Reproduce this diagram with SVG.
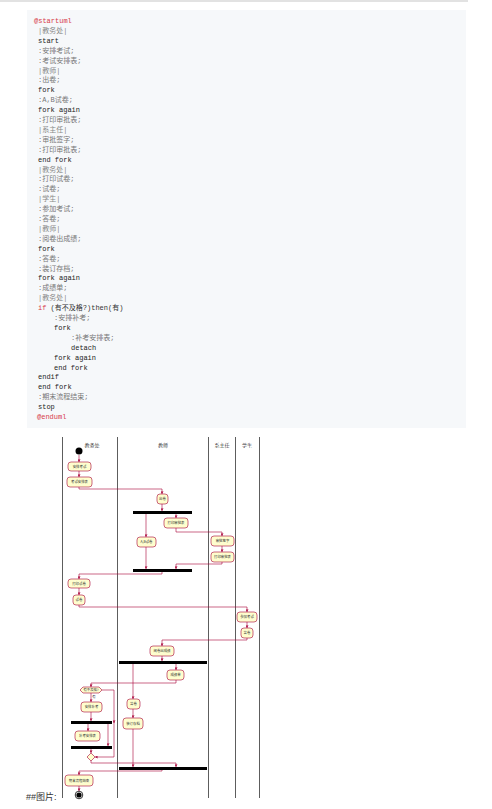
<svg xmlns="http://www.w3.org/2000/svg" width="492" height="809" viewBox="0 0 492 809">
<defs>
<style>
.code{font-family:"Liberation Mono","Noto Sans CJK SC",monospace;font-size:7px;fill:#333;white-space:pre}
.red{fill:#d73a49}
.act{fill:#777}
.lane{fill:#888}
.kw{fill:#222}
.box{fill:#FEFECE;stroke:#A80036;stroke-width:0.6}
.lbl{font-family:"Noto Sans CJK SC",sans-serif;font-size:3.4px;fill:#333;text-anchor:middle}
.hdr{font-family:"Noto Serif CJK SC","Noto Sans CJK SC",serif;font-size:5px;fill:#222;text-anchor:middle}
.ln{stroke:#A80036;stroke-width:0.6;fill:none}
.ar{stroke:#A80036;stroke-width:0.6;fill:none;marker-end:url(#ah)}
.bar{fill:#000}
.sw{stroke:#333;stroke-width:0.8}
</style>
<marker id="ah" viewBox="0 0 6 6" refX="6" refY="3" markerWidth="3" markerHeight="3" markerUnits="userSpaceOnUse" orient="auto">
<path d="M0,0 L6,3 L0,6 L1.5,3 z" fill="#A80036"/>
</marker>
</defs>
<rect x="0" y="0" width="492" height="809" fill="#fff"/>
<line x1="0" y1="1" x2="468" y2="1" stroke="#d8d8d8" stroke-width="1.5"/>
<rect x="27" y="10" width="439" height="418" fill="#f6f8fa"/>
<g id="code" class="code">
<text x="34" y="23" class="red">@startuml</text>
<text x="38" y="32.9" class="lane">|教务处|</text>
<text x="38" y="42.8" class="kw">start</text>
<text x="38" y="52.7" class="act">:安排考试;</text>
<text x="38" y="62.6" class="act">:考试安排表;</text>
<text x="38" y="72.5" class="lane">|教师|</text>
<text x="38" y="82.4" class="act">:出卷;</text>
<text x="38" y="92.3" class="kw">fork</text>
<text x="38" y="102.2" class="act">:A,B试卷;</text>
<text x="38" y="112.1" class="kw">fork again</text>
<text x="38" y="122" class="act">:打印审批表;</text>
<text x="38" y="131.9" class="lane">|系主任|</text>
<text x="38" y="141.8" class="act">:审批签字;</text>
<text x="38" y="151.7" class="act">:打印审批表;</text>
<text x="38" y="161.6" class="kw">end fork</text>
<text x="38" y="171.5" class="lane">|教务处|</text>
<text x="38" y="181.4" class="act">:打印试卷;</text>
<text x="38" y="191.3" class="act">:试卷;</text>
<text x="38" y="201.2" class="lane">|学生|</text>
<text x="38" y="211.1" class="act">:参加考试;</text>
<text x="38" y="221" class="act">:答卷;</text>
<text x="38" y="230.9" class="lane">|教师|</text>
<text x="38" y="240.8" class="act">:阅卷出成绩;</text>
<text x="38" y="250.7" class="kw">fork</text>
<text x="38" y="260.6" class="act">:答卷;</text>
<text x="38" y="270.5" class="act">:装订存档;</text>
<text x="38" y="280.4" class="kw">fork again</text>
<text x="38" y="290.3" class="act">:成绩单;</text>
<text x="38" y="300.2" class="lane">|教务处|</text>
<text x="38" y="310.1"><tspan class="red">if</tspan> (有不及格?)then(有)</text>
<text x="54" y="320" class="act">:安排补考;</text>
<text x="54" y="329.9" class="kw">fork</text>
<text x="71" y="339.8" class="act">:补考安排表;</text>
<text x="71" y="349.7" class="kw">detach</text>
<text x="54" y="359.6" class="kw">fork again</text>
<text x="54" y="369.5" class="kw">end fork</text>
<text x="38" y="379.4" class="kw">endif</text>
<text x="38" y="389.3" class="kw">end fork</text>
<text x="38" y="399.2" class="act">:期末流程结束;</text>
<text x="38" y="409.1" class="kw">stop</text>
<text x="37" y="419" class="red">@enduml</text>
</g>
<g id="swimlanes">
<line class="sw" x1="62.5" y1="437" x2="62.5" y2="798"/>
<line class="sw" x1="117.5" y1="437" x2="117.5" y2="798"/>
<line class="sw" x1="208.5" y1="437" x2="208.5" y2="798"/>
<line class="sw" x1="235.5" y1="437" x2="235.5" y2="798"/>
<line class="sw" x1="259.5" y1="437" x2="259.5" y2="798"/>
<text class="hdr" x="92" y="447">教务处</text>
<text class="hdr" x="163" y="447">教师</text>
<text class="hdr" x="222" y="447">系主任</text>
<text class="hdr" x="247" y="447">学生</text>
</g>
<g id="connectors">
<path class="ar" d="M79,455 V462"/>
<path class="ar" d="M79,471 V477"/>
<path class="ar" d="M79,487 V489 H162 V494"/>
<path class="ar" d="M162,504 V511"/>
<path class="ar" d="M146,514 V537"/>
<path class="ar" d="M146,547 V569"/>
<path class="ar" d="M176,514 V518"/>
<path class="ar" d="M176,528 V532 H222 V536"/>
<path class="ar" d="M222,546 V552"/>
<path class="ar" d="M222,562 V564 H176 V569"/>
<path class="ar" d="M162,572 V574 H79 V579"/>
<path class="ar" d="M79,588 V595"/>
<path class="ar" d="M79,605 V607 H247 V612"/>
<path class="ar" d="M247,622 V628"/>
<path class="ar" d="M247,638 V640 H162 V646"/>
<path class="ar" d="M162,656 V661"/>
<path class="ar" d="M176,664 V670"/>
<path class="ar" d="M176,680 V683 H91 V687"/>
<path class="ar" d="M91,693 V702"/>
<path class="ar" d="M91,712 V721"/>
<path class="ar" d="M88,724 V731"/>
<path class="ar" d="M108,724 V746"/>
<path class="ar" d="M91,749 V753"/>
<path class="ar" d="M102,690 H114 V723"/>
<path class="ar" d="M114,722 V757 H95"/>
<path class="ar" d="M91,761 V763 H176 V767"/>
<path class="ar" d="M133,664 V699"/>
<path class="ar" d="M133,709 V718"/>
<path class="ar" d="M133,729 V767"/>
<path class="ar" d="M162,770 V771 H79 V775"/>
<path class="ar" d="M79,786 V791"/>
<text class="lbl" x="94" y="698" text-anchor="start">有</text>
</g>
<g id="start"><circle cx="79" cy="451" r="3.5" fill="#000"/></g>
<g id="n1"><rect class="box" x="68" y="462" width="23" height="9" rx="3"/><text class="lbl" x="79.5" y="467.8">安排考试</text></g>
<g id="n2"><rect class="box" x="67" y="477" width="25" height="10" rx="3"/><text class="lbl" x="79.5" y="483.2">考试安排表</text></g>
<g id="n3"><rect class="box" x="157" y="494" width="11" height="10" rx="3"/><text class="lbl" x="162.5" y="500.2">出卷</text></g>
<g id="fork1"><rect class="bar" x="133" y="511" width="59" height="3"/></g>
<g id="n4"><rect class="box" x="137" y="537" width="19" height="10" rx="3"/><text class="lbl" x="146.5" y="543.2">A,B试卷</text></g>
<g id="n5"><rect class="box" x="164" y="518" width="24" height="10" rx="3"/><text class="lbl" x="176" y="524.2">打印审批表</text></g>
<g id="n6"><rect class="box" x="211" y="536" width="23" height="10" rx="3"/><text class="lbl" x="222.5" y="542.2">审批签字</text></g>
<g id="n7"><rect class="box" x="211" y="552" width="23" height="10" rx="3"/><text class="lbl" x="222.5" y="558.2">打印审批表</text></g>
<g id="join1"><rect class="bar" x="133" y="569" width="59" height="3"/></g>
<g id="n8"><rect class="box" x="68" y="579" width="22" height="9" rx="3"/><text class="lbl" x="79" y="584.8">打印试卷</text></g>
<g id="n9"><rect class="box" x="73" y="595" width="12" height="10" rx="3"/><text class="lbl" x="79" y="601.2">试卷</text></g>
<g id="n10"><rect class="box" x="237" y="612" width="20" height="10" rx="3"/><text class="lbl" x="247" y="618.2">参加考试</text></g>
<g id="n11"><rect class="box" x="241" y="628" width="12" height="10" rx="3"/><text class="lbl" x="247" y="634.2">答卷</text></g>
<g id="n12"><rect class="box" x="150" y="646" width="24" height="10" rx="3"/><text class="lbl" x="162" y="652.2">阅卷出成绩</text></g>
<g id="fork2"><rect class="bar" x="119" y="661" width="88" height="3"/></g>
<g id="n13"><rect class="box" x="167" y="670" width="17" height="10" rx="3"/><text class="lbl" x="175.5" y="676.2">成绩单</text></g>
<g id="if1"><polygon class="box" points="80,690 83,687 99,687 102,690 99,693 83,693"/><text class="lbl" x="91" y="691.3">有不及格?</text></g>
<g id="n14"><rect class="box" x="81" y="702" width="21" height="10" rx="3"/><text class="lbl" x="91.5" y="708.2">安排补考</text></g>
<g id="fork3"><rect class="bar" x="71" y="721" width="41" height="3"/></g>
<g id="n15"><rect class="box" x="75" y="731" width="25" height="10" rx="3"/><text class="lbl" x="87.5" y="737.2">补考安排表</text></g>
<g id="join3"><rect class="bar" x="71" y="746" width="41" height="3"/></g>
<g id="merge1"><polygon class="box" points="91,753 95,757 91,761 87,757"/></g>
<g id="n16"><rect class="box" x="127" y="699" width="13" height="10" rx="3"/><text class="lbl" x="133.5" y="705.2">答卷</text></g>
<g id="n17"><rect class="box" x="123" y="718" width="20" height="11" rx="3"/><text class="lbl" x="133" y="724.7">装订存档</text></g>
<g id="join2"><rect class="bar" x="119" y="767" width="88" height="3"/></g>
<g id="n18"><rect class="box" x="65" y="775" width="28" height="11" rx="3"/><text class="lbl" x="79" y="781.7">期末流程结束</text></g>
<g id="stop"><circle cx="79" cy="795" r="3.8" fill="#fff" stroke="#000" stroke-width="0.8"/><circle cx="79" cy="795" r="2.6" fill="#000"/></g>
<text x="26" y="800" font-family="Liberation Sans,'Noto Sans CJK SC',sans-serif" font-size="9" fill="#333">##图片:</text>
</svg>
